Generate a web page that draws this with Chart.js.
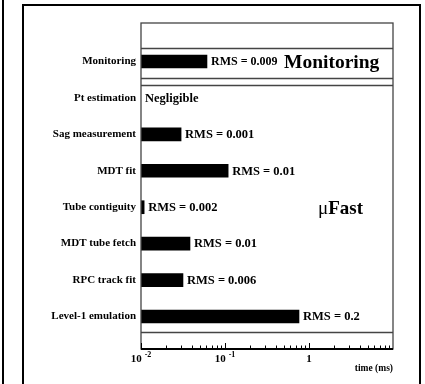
<!DOCTYPE html>
<html>
<head>
    <title>muFast timing</title>
    <script src="https://cdn.jsdelivr.net/npm/chart.js@4.4.1/dist/chart.umd.min.js"></script>
    <style>
        body { margin: 0; background: #fff; }
        #wrap { width: 425px; height: 384px; }
    </style>
</head>
<body>
<div id="wrap"><canvas id="myChart" width="425" height="384"></canvas></div>

<script>
    // data (mean time per step, ms)
    var categories = ["Monitoring", "Pt estimation", "Sag measurement", "MDT fit",
        "Tube contiguity", "MDT tube fetch", "RPC track fit", "Level-1 emulation"];
    var meanTimes = [0.061, null, 0.030, 0.109, 0.0109, 0.0383, 0.0316, 0.76];
    var rmsLabels = ["RMS = 0.009", "Negligible", "RMS = 0.001", "RMS = 0.01",
        "RMS = 0.002", "RMS = 0.01", "RMS = 0.006", "RMS = 0.2"];
    var majorTicks = [0.01, 0.1, 1];
    var tickBase = ["10", "10", "1"];
    var tickExp = ["-2", "-1", ""];
    var axisMin = 0.01;
    var axisMax = 10;

    var serif = "'Liberation Serif', 'Times New Roman', serif";

    var barData = [];
    for (var i = 0; i < categories.length; i++) {
        if (meanTimes[i] !== null) {
            barData.push({ y: i, x: [axisMin, meanTimes[i]] });
        }
    }

    function line(ctx, x1, y1, x2, y2) {
        ctx.beginPath();
        ctx.moveTo(x1, y1);
        ctx.lineTo(x2, y2);
        ctx.stroke();
    }

    var decorations = {
        id: "decorations",
        afterDraw: function (chart) {
            var ctx = chart.ctx;
            var xs = chart.scales.x;
            var ys = chart.scales.y;
            var a = chart.chartArea;
            ctx.save();

            // page frame
            ctx.strokeStyle = "#000";
            ctx.lineWidth = 2;
            line(ctx, 3, 0, 3, 384);
            line(ctx, 23, 5, 23, 384);
            line(ctx, 22, 5, 421, 5);
            line(ctx, 420, 5, 420, 384);

            // plot frame and boxes
            ctx.strokeStyle = "#444";
            ctx.lineWidth = 1.3;
            ctx.strokeRect(a.left, a.top, a.right - a.left, a.bottom - a.top);
            [-0.37, 0.453, 0.645, 7.425].forEach(function (v) {
                var py = Math.round(ys.getPixelForValue(v)) + 0.5;
                line(ctx, a.left, py, a.right, py);
            });

            // x axis line and tick marks
            ctx.strokeStyle = "#000";
            ctx.lineWidth = 2;
            line(ctx, a.left, a.bottom, a.right, a.bottom);
            ctx.lineWidth = 1;
            majorTicks.forEach(function (d) {
                for (var m = 1; m <= 9; m++) {
                    var v = d * m;
                    if (v > axisMax) continue;
                    var px = Math.round(xs.getPixelForValue(v)) + 0.5;
                    line(ctx, px, a.bottom, px, a.bottom - (m === 1 ? 6 : 3.5));
                }
            });

            // x tick labels with exponents
            ctx.fillStyle = "#000";
            ctx.textBaseline = "alphabetic";
            majorTicks.forEach(function (d, k) {
                var px = xs.getPixelForValue(d);
                ctx.font = "bold 11px " + serif;
                var wb = ctx.measureText(tickBase[k]).width;
                ctx.font = "bold 8px " + serif;
                var we = tickExp[k] ? ctx.measureText(tickExp[k]).width + 3 : 0;
                var x0 = px - (wb + we) / 2;
                ctx.font = "bold 11px " + serif;
                ctx.textAlign = "left";
                ctx.fillText(tickBase[k], x0, 362);
                if (tickExp[k]) {
                    ctx.font = "bold 8px " + serif;
                    ctx.fillText(tickExp[k], x0 + wb + 3, 357);
                }
            });
            ctx.font = "bold 9.5px " + serif;
            ctx.textAlign = "right";
            ctx.fillText("time (ms)", a.right, 371);

            // category labels
            ctx.font = "bold 11px " + serif;
            ctx.textAlign = "right";
            ctx.textBaseline = "middle";
            categories.forEach(function (c, k) {
                ctx.fillText(c, a.left - 5, ys.getPixelForValue(k));
            });

            // RMS labels next to the bars
            ctx.textAlign = "left";
            rmsLabels.forEach(function (t, k) {
                ctx.font = (k === 0 ? "bold 12px " : "bold 12.5px ") + serif;
                var end = meanTimes[k] === null ? a.left : xs.getPixelForValue(meanTimes[k]);
                ctx.fillText(t, end + 4, ys.getPixelForValue(k) + 0.5);
            });

            // big labels
            ctx.font = "bold 19.5px " + serif;
            ctx.fillText("Monitoring", 284, ys.getPixelForValue(0.05));
            ctx.textBaseline = "alphabetic";
            ctx.font = "19px " + serif;
            ctx.fillText("\u03bc", 318, 214);
            var wm = ctx.measureText("\u03bc").width;
            ctx.font = "bold 19px " + serif;
            ctx.fillText("Fast", 318 + wm, 214);

            ctx.restore();
        }
    };

    var ctx = document.getElementById("myChart").getContext("2d");
    new Chart(ctx, {
        type: "bar",
        data: {
            datasets: [{
                data: barData,
                backgroundColor: "#000",
                borderWidth: 0,
                barThickness: 13
            }]
        },
        options: {
            indexAxis: "y",
            responsive: false,
            animation: false,
            layout: { padding: { left: 141, top: 23, right: 32, bottom: 35 } },
            plugins: {
                legend: { display: false },
                tooltip: { enabled: false }
            },
            scales: {
                x: { type: "logarithmic", min: axisMin, max: axisMax, display: false },
                y: { type: "linear", reverse: true, offset: false, min: -1.057, max: 7.892, display: false }
            }
        },
        plugins: [decorations]
    });
</script>
</body>
</html>
